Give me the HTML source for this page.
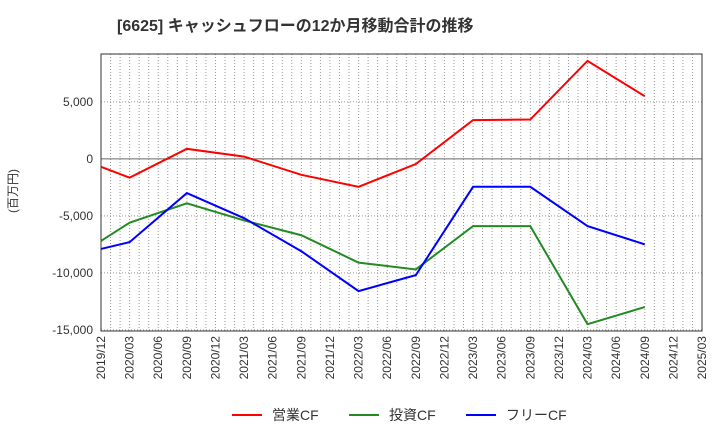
<!DOCTYPE html>
<html><head><meta charset="utf-8"><style>
body{margin:0;background:#fff;}
svg text{font-family:"Liberation Sans","Noto Sans CJK JP",sans-serif;}
</style></head><body>
<svg id="c" width="720" height="440">
<text x="117" y="31" font-size="16" font-weight="bold" fill="#333">[6625]  キャッシュフローの12か月移動合計の推移</text>
<text transform="translate(17,191) rotate(-90)" text-anchor="middle" font-size="12" fill="#333">(百万円)</text>
<g id="grid"></g><g id="axes"></g><g id="series"></g>
<g>
<line x1="232" y1="415" x2="262" y2="415" stroke="#f00" stroke-width="2"/><text x="272" y="420" font-size="14" fill="#333">営業CF</text>
<line x1="349" y1="415" x2="379" y2="415" stroke="#228b22" stroke-width="2"/><text x="389" y="420" font-size="14" fill="#333">投資CF</text>
<line x1="466" y1="415" x2="496" y2="415" stroke="#00f" stroke-width="2"/><text x="506" y="420" font-size="14" fill="#333">フリーCF</text>
</g>
</svg>
<script>
const xLabels=["2019/12","2020/03","2020/06","2020/09","2020/12","2021/03","2021/06","2021/09","2021/12","2022/03","2022/06","2022/09","2022/12","2023/03","2023/06","2023/09","2023/12","2024/03","2024/06","2024/09","2024/12","2025/03"];
const pointIdx=[0,1,3,5,7,9,11,13,15,17,19];
const operating=[-700,-1650,880,200,-1400,-2450,-450,3400,3450,8600,5500];
const investing=[-7200,-5600,-3900,-5400,-6700,-9100,-9700,-5900,-5900,-14500,-13000];
const freeCF=[-7900,-7300,-3000,-5200,-8100,-11600,-10200,-2450,-2450,-5900,-7500];
const yTicks=[5000,0,-5000,-10000,-15000];
const L=101,R=702,T=54,B=331,yMax=9200,yMin=-15100;
const xq=i=>L+i*(R-L)/21;
const y=v=>T+(yMax-v)*(B-T)/(yMax-yMin);
const NS="http://www.w3.org/2000/svg";
function mk(p,t,a){const e=document.createElementNS(NS,t);for(const k in a)e.setAttribute(k,a[k]);p.appendChild(e);return e;}
const grid=document.getElementById('grid'),axes=document.getElementById('axes'),ser=document.getElementById('series');
for(let m=1;m<63;m++){const x=L+m*(R-L)/63;const g=mk(grid,'line',{x1:x,x2:x,y1:T,y2:B,stroke:'#999','stroke-dasharray':'1,2','stroke-width':1});

}
yTicks.forEach(v=>{const yy=y(v);const g=mk(grid,'line',{x1:L,x2:R,y1:yy,y2:yy,stroke:v===0?'#666':'#999','stroke-dasharray':v===0?'':'1,2','stroke-width':1});


const t=mk(axes,'text',{x:L-8,y:yy+4,'text-anchor':'end','font-size':12,fill:'#333'});t.textContent=v.toLocaleString('en-US');

});
const fr=mk(axes,'rect',{x:L,y:T,width:R-L,height:B-T,fill:'none',stroke:'#333','stroke-width':1});


xLabels.forEach((s,i)=>{const x=xq(i);const t=mk(axes,'text',{transform:`translate(${x+4},${B+5}) rotate(-90)`,'text-anchor':'end','font-size':12,fill:'#333'});t.textContent=s;

});
[[operating,'#f00','operating-cf-line'],[investing,'#228b22','investing-cf-line'],[freeCF,'#00f','free-cf-line']].forEach(([d,c,n])=>{
const pts=d.map((v,i)=>xq(pointIdx[i])+','+y(v)).join(' ');
const p=mk(ser,'polyline',{points:pts,fill:'none',stroke:c,'stroke-width':2});

});
</script>
</body></html>
